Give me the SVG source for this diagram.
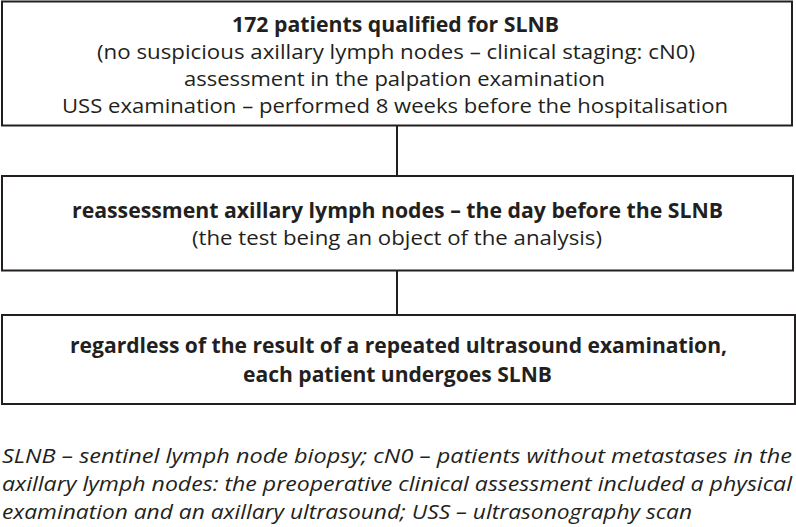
<svg xmlns="http://www.w3.org/2000/svg" width="796" height="527" viewBox="0 0 796 527">
<style>
.box{fill:#fff;stroke:#231f20;stroke-width:2}
.ln{stroke:#231f20;stroke-width:2;fill:none}
.t{font-family:"Open Sans","Noto Sans",sans-serif;font-size:20.5px;fill:#231f20;text-anchor:middle}
.b{font-weight:bold}
.cap{font-family:"Open Sans","Noto Sans",sans-serif;font-size:20px;font-style:italic;fill:#231f20}
</style>
<rect width="796" height="527" fill="#fff"/>
<g id="connectors">
<line class="ln" x1="397" y1="125" x2="397" y2="176"/>
<line class="ln" x1="397" y1="270" x2="397" y2="315"/>
</g>
<g id="node1">
<rect class="box" x="2" y="1.5" width="790" height="124"/>
<text class="t b" x="395.5" y="32" textLength="327" lengthAdjust="spacingAndGlyphs">172 patients qualified for SLNB</text>
<text class="t" x="396" y="59" textLength="598" lengthAdjust="spacingAndGlyphs">(no suspicious axillary lymph nodes – clinical staging: cN0)</text>
<text class="t" x="394.5" y="86" textLength="421" lengthAdjust="spacingAndGlyphs">assessment in the palpation examination</text>
<text class="t" x="395" y="113" textLength="666" lengthAdjust="spacingAndGlyphs">USS examination – performed 8 weeks before the hospitalisation</text>
</g>
<g id="node2">
<rect class="box" x="2" y="176" width="791" height="94.5"/>
<text class="t b" x="397.5" y="218" textLength="651" lengthAdjust="spacingAndGlyphs">reassessment axillary lymph nodes – the day before the SLNB</text>
<text class="t" x="397" y="245" textLength="410" lengthAdjust="spacingAndGlyphs">(the test being an object of the analysis)</text>
</g>
<g id="node3">
<rect class="box" x="2" y="315" width="793" height="89"/>
<text class="t b" x="398.5" y="353" textLength="657" lengthAdjust="spacingAndGlyphs">regardless of the result of a repeated ultrasound examination,</text>
<text class="t b" x="397.5" y="382" textLength="309" lengthAdjust="spacingAndGlyphs">each patient undergoes SLNB</text>
</g>
<g id="caption">
<text class="cap" x="2" y="463" textLength="790" lengthAdjust="spacingAndGlyphs">SLNB – sentinel lymph node biopsy; cN0 – patients without metastases in the</text>
<text class="cap" x="2" y="491" textLength="790" lengthAdjust="spacingAndGlyphs">axillary lymph nodes: the preoperative clinical assessment included a physical</text>
<text class="cap" x="2" y="519" textLength="690" lengthAdjust="spacingAndGlyphs">examination and an axillary ultrasound; USS – ultrasonography scan</text>
</g>
</svg>
